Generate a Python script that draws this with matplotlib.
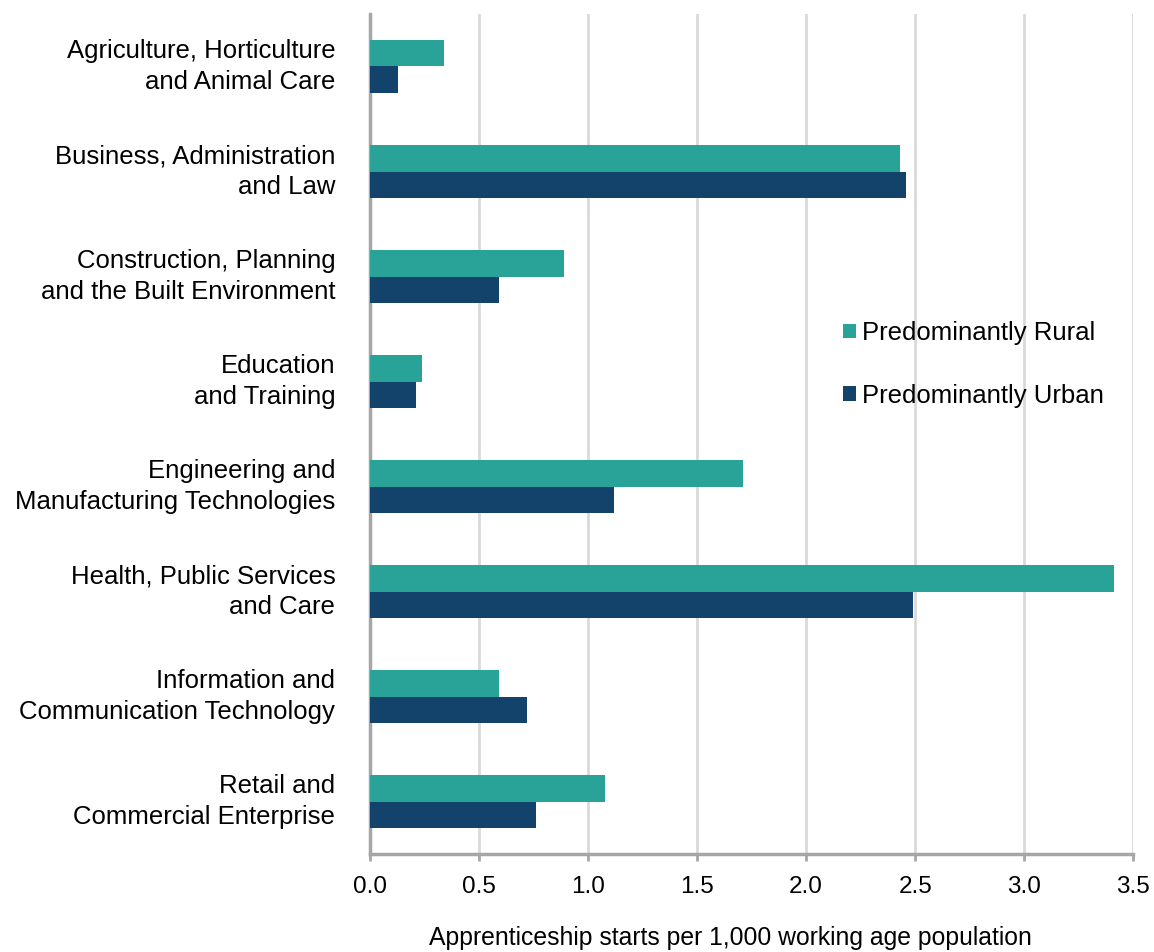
import numpy as np
import matplotlib
matplotlib.use("Agg")
import matplotlib.pyplot as plt
import matplotlib.transforms as mtransforms
from matplotlib.patches import Patch

plt.rcParams['font.family'] = ['Liberation Sans', 'DejaVu Sans']

categories = [
    "Agriculture, Horticulture\nand Animal Care",
    "Business, Administration\nand Law",
    "Construction, Planning\nand the Built Environment",
    "Education\nand Training",
    "Engineering and\nManufacturing Technologies",
    "Health, Public Services\nand Care",
    "Information and\nCommunication Technology",
    "Retail and\nCommercial Enterprise",
]
rural = [0.34, 2.43, 0.89, 0.24, 1.71, 3.41, 0.59, 1.08]
urban = [0.13, 2.46, 0.59, 0.21, 1.12, 2.49, 0.72, 0.76]
series_names = ["Predominantly Rural", "Predominantly Urban"]
xticks = [0.0, 0.5, 1.0, 1.5, 2.0, 2.5, 3.0, 3.5]

rural_color = "#29A397"
urban_color = "#13426B"
grid_color = "#D9D9D9"
spine_color = "#A6A6A6"
fs = 18.5
fs_tick = 17.5
fs_xlabel = 17.8

fig = plt.figure(figsize=(11.54, 9.52), dpi=100)
ax = fig.add_axes([0.3206, 0.1029, 0.982 - 0.3206, 0.9853 - 0.1029])

y = np.arange(len(categories))
h = 0.25
ax.barh(y - h / 2, rural, height=h, color=rural_color, zorder=3)
ax.barh(y + h / 2, urban, height=h, color=urban_color, zorder=3)

ax.set_ylim(len(categories) - 0.5, -0.5)
ax.set_xlim(0, 3.5)
ax.set_xticks(xticks)
ax.set_xticklabels([f"{t:.1f}" for t in xticks], fontsize=fs_tick, color="#000000")
ax.set_yticks(y)
ax.set_yticklabels(categories, fontsize=fs, linespacing=1.36, ha="right",
                   va="center")
# nudge the category labels slightly downward
shift = mtransforms.ScaledTranslation(0, -3 / 100, fig.dpi_scale_trans)
for lbl in ax.get_yticklabels():
    lbl.set_transform(lbl.get_transform() + shift)

ax.xaxis.grid(True, color=grid_color, linewidth=2, zorder=0)
ax.set_axisbelow(True)

for side in ("top", "right"):
    ax.spines[side].set_visible(False)
for side in ("left", "bottom"):
    ax.spines[side].set_color(spine_color)
    ax.spines[side].set_linewidth(2.5)

ax.tick_params(axis="x", direction="out", length=5, width=2, color=spine_color, pad=11)
ax.tick_params(axis="y", length=0, pad=25)

ax.set_xlabel("Apprenticeship starts per 1,000 working age population", fontsize=fs_xlabel)
ax.xaxis.set_label_coords(0.472, -0.086)

handles = [Patch(facecolor=rural_color), Patch(facecolor=urban_color)]
leg = ax.legend(handles, series_names, loc="center left",
                bbox_to_anchor=(0.589, 0.583), frameon=False, fontsize=fs,
                handlelength=0.5, handleheight=0.5, handletextpad=0.25,
                labelspacing=1.5)

fig.savefig("out.png", dpi=100, facecolor="white")
